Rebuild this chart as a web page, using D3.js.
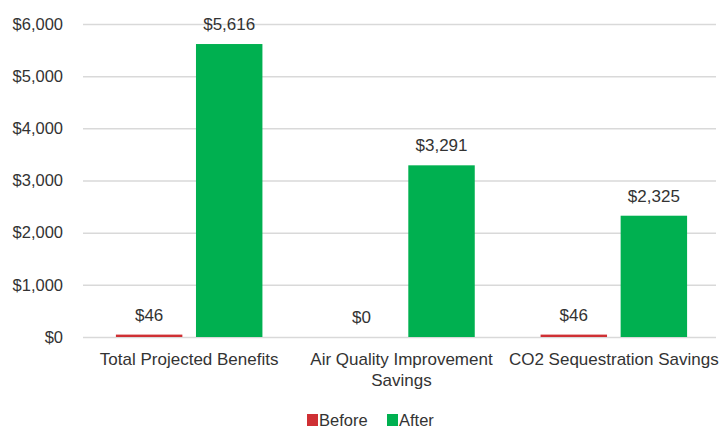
<!DOCTYPE html>
<html><head><meta charset="utf-8">
<script src="https://cdn.jsdelivr.net/npm/d3@7"></script>
<style>body{margin:0;background:#fff}svg{display:block}</style>
</head><body>
<script>
const categories = [["Total Projected Benefits"], ["Air Quality Improvement", "Savings"], ["CO2 Sequestration Savings"]];
const seriesNames = ["Before", "After"];
const beforeValues = [46, 0, 46];
const afterValues = [5616, 3291, 2325];
const tickValues = [0, 1000, 2000, 3000, 4000, 5000, 6000];
const colors = ["#CF3034", "#00B050"];

const W = 719, H = 430;
const margin = {left: 83, right: 0, top: 24, bottom: 93};
const svg = d3.select("body").append("svg").attr("width", W).attr("height", H);
const font = "Liberation Sans, Arial, sans-serif";
const textColor = "#333";

const y = d3.scaleLinear().domain([0, 6000]).range([H - margin.bottom, margin.top]);
const x0 = d3.scaleBand().domain(d3.range(categories.length)).range([margin.left, W - margin.right + 1]).paddingInner(0.31).paddingOuter(0.155);
const x1 = d3.scaleBand().domain(seriesNames).range([0, x0.bandwidth()]).paddingInner(0.17);

const fmt = v => "$" + d3.format(",")(v);

// grid
const yAxis = d3.axisLeft(y).tickValues(tickValues).tickSize(-(716 - margin.left)).tickFormat(fmt);
const gy = svg.append("g").attr("transform", `translate(${margin.left},0)`).call(yAxis);
gy.select(".domain").remove();
gy.selectAll(".tick line").attr("stroke", "#d9d9d9").attr("stroke-width", 1.5);
gy.selectAll(".tick text").attr("x", -20).attr("font-family", font).attr("font-size", 16.5).attr("fill", textColor);

const data = categories.map((c, i) => ({i, vals: [beforeValues[i], afterValues[i]]}));
const groups = svg.append("g").selectAll("g").data(data).join("g")
  .attr("transform", d => `translate(${x0(d.i)},0)`);
groups.selectAll("rect").data(d => d.vals.map((v, k) => ({v, k}))).join("rect")
  .attr("x", d => x1(seriesNames[d.k]))
  .attr("width", x1.bandwidth())
  .attr("y", d => y(d.v))
  .attr("height", d => y(0) - y(d.v))
  .attr("fill", d => colors[d.k]);
groups.selectAll("text").data(d => d.vals.map((v, k) => ({v, k}))).join("text")
  .attr("x", d => x1(seriesNames[d.k]) + x1.bandwidth() / 2)
  .attr("y", d => y(d.v) - 14)
  .attr("text-anchor", "middle")
  .attr("font-family", font).attr("font-size", 17).attr("fill", textColor)
  .text(d => fmt(d.v));

// category labels
const cl = svg.append("g").selectAll("text").data(categories).join("text")
  .attr("x", (d, i) => x0(i) + x0.bandwidth() / 2)
  .attr("y", 365)
  .attr("text-anchor", "middle")
  .attr("font-family", font).attr("font-size", 17).attr("fill", textColor);
cl.selectAll("tspan").data(d => d).join("tspan")
  .attr("x", function() { return this.parentNode.getAttribute("x"); })
  .attr("dy", (d, j) => j === 0 ? 0 : 21)
  .text(d => d);

// legend
const lg = svg.append("g");
const legendX = [307, 387];
seriesNames.forEach((s, k) => {
  lg.append("rect").attr("x", legendX[k]).attr("y", 414).attr("width", 11).attr("height", 12).attr("fill", colors[k]);
  lg.append("text").attr("x", legendX[k] + 12).attr("y", 425.5).attr("font-family", font).attr("font-size", 16.5).attr("fill", textColor).text(s);
});
</script>
</body></html>
